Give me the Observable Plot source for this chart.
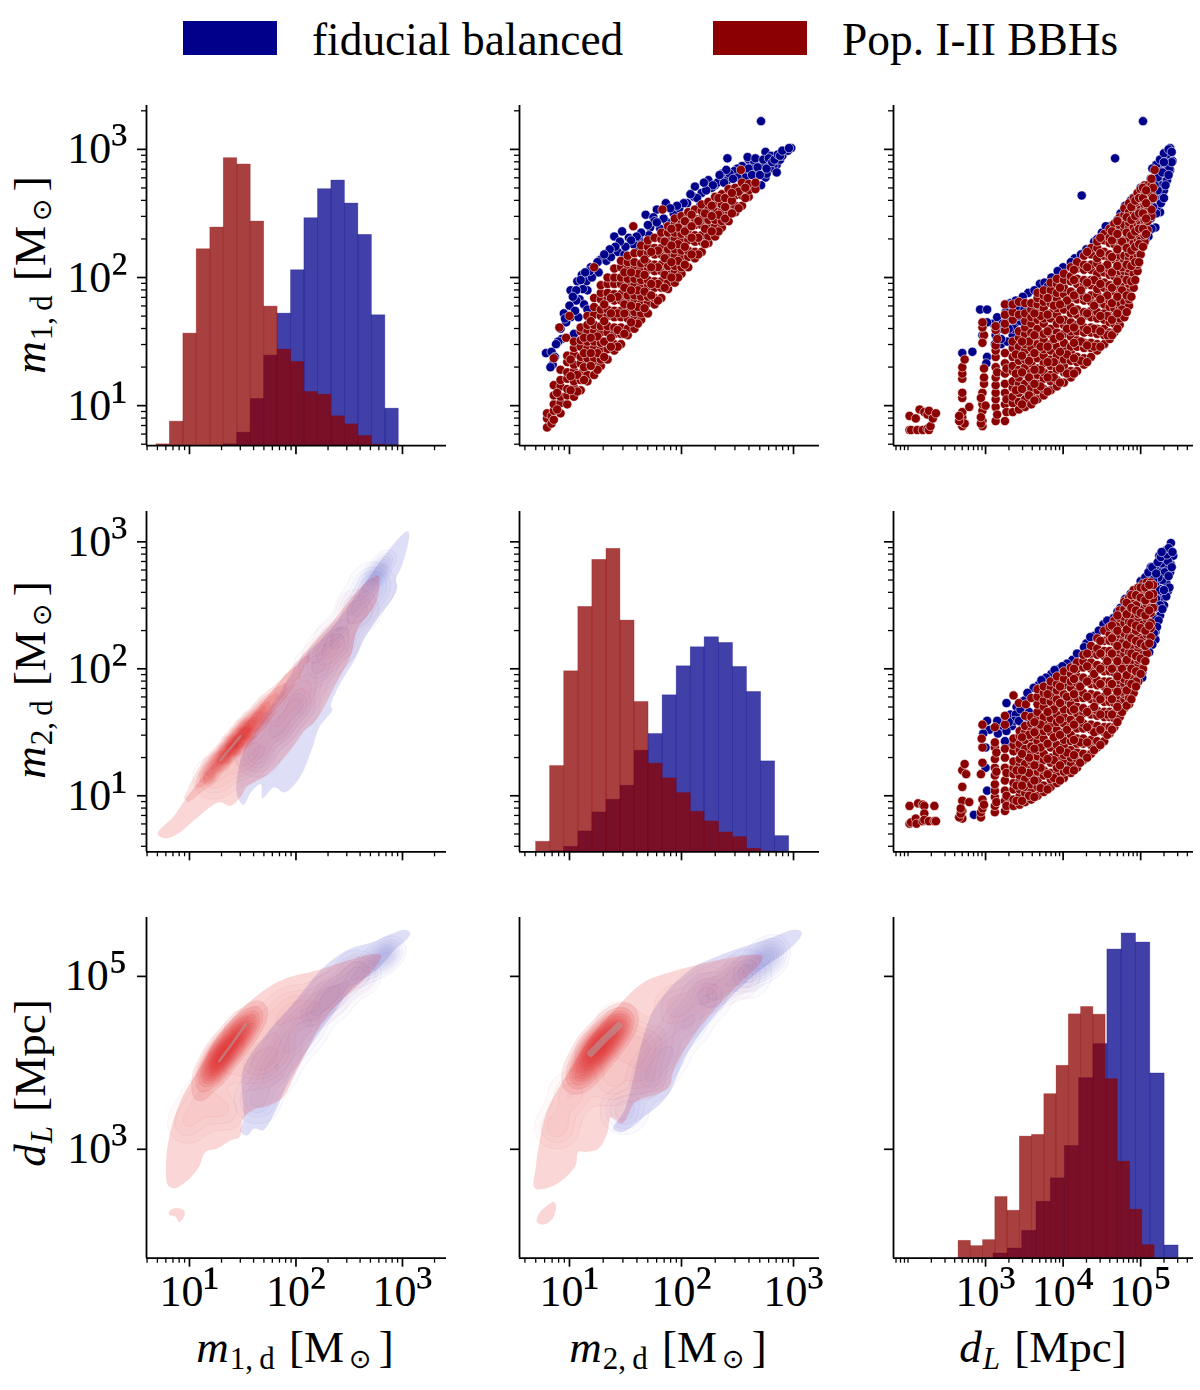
<!DOCTYPE html>
<html><head><meta charset="utf-8">
<script src="https://cdn.jsdelivr.net/npm/d3@7"></script>
<script src="https://cdn.jsdelivr.net/npm/@observablehq/plot@0.6"></script>
<style>
html,body{margin:0;padding:0;background:#fff}
#fig{position:relative;width:1200px;height:1390px;overflow:hidden;font-family:"Liberation Serif",serif;color:#000}
#fig svg{position:absolute}
.lab{position:absolute;white-space:nowrap;font-size:45px;line-height:50px;transform-origin:0 0;word-spacing:3px}
.lab sub{font-size:31px;vertical-align:-7px;line-height:0;margin-left:1px}
.lab sub.o{font-family:"DejaVu Sans";font-size:27px;vertical-align:-6px;margin:0 7px 0 5px}
.swatch{position:absolute;height:34px;width:94px;top:21px}
.leg{position:absolute;font-size:45.4px;line-height:50px;top:15px;white-space:nowrap}
</style></head><body><div id="fig"></div>
<script>
// ---- axes ----
const m1Domain=[3.95,2590], m2Domain=[3.58,1706], dLDomain=[65,480000];
const m1RowDomain=[4.87,2200], m2RowDomain=[3.62,1733], dLRowDomain=[55,480000];
const massMajor=[10,100,1000], dLMajor=[1000,10000,100000], dLRowMajor=[1000,100000];
const m1Minor=[4,5,6,7,8,9,20,30,40,50,60,70,80,90,200,300,400,500,600,700,800,900,2000];
const m2Minor=[4,5,6,7,8,9,20,30,40,50,60,70,80,90,200,300,400,500,600,700,800,900];
const dLMinor=[70,80,90,100,200,300,400,500,600,700,800,900,2000,3000,4000,5000,6000,7000,8000,9000,20000,30000,40000,50000,60000,70000,80000,90000,200000,300000,400000];
const rowMinorM1=[5,6,7,8,9,20,30,40,50,60,70,80,90,200,300,400,500,600,700,800,900,2000];
const rowMinorM2=[4,5,6,7,8,9,20,30,40,50,60,70,80,90,200,300,400,500,600,700,800,900];
const supers={1:"¹",2:"²",3:"³",4:"⁴",5:"⁵"};

// ---- histograms: bin edges (physical units) and estimated counts ----
const m1Edges=[4.9,6.55,8.77,11.7,15.7,21,28.1,37.6,50.3,67.2,89.9,120,161,215,288,385,516,690,923];
const m1Fid=[0,0,0,0,0,4,39,140,270,396,526,682,769,795,726,632,391,111];
const m1Pop=[4,72,336,589,654,862,843,672,417,288,251,161,153,88,64,29,3,1];
const m2Edges=[5.04,6.72,8.97,12,16,21.4,28.5,38.1,50.8,67.9,90.6,121,161,216,288,384,513,685,914];
const m2Fid=[0,2,15,61,118,156,198,303,353,469,556,613,643,626,554,479,271,47];
const m2Pop=[30,257,541,734,875,908,693,449,264,220,176,120,91,58,44,9,1,0];
const dLEdgesFid=[1267,1941,2965,4539,6935,10500,16070,24600,37240,56920,87100,133000,203700,308300];
const dLFid=[14,29,82,169,239,336,539,641,924,972,945,553,38];
const dLEdgesPop=[449,646,929,1337,1923,2767,3981,5728,8241,11858,17061,24547,35318,50816,73114,105196,151356];
const dLPop=[52,36,54,183,142,364,369,491,576,730,752,729,536,289,145,39];

// ---- scatter points, in hundredths of a dex: [log x, log y, log y, ...] ----
const m2m1Fid=[[271,322],[241,293],[298,301],[292,298],[275,298],[280,295],[285,288],[275,278],[254,287],[260,292],[265,290],[274,287],[250,285],[236,281],[224,276],[212,271],[186,258],[178,253],[168,249],[175,247],[172,239],[147,236],[140,232],[153,231],[162,230],[167,227],[143,220],[128,214],[133,213],[119,208],[111,202],[107,197],[101,190],[115,197],[109,183],[95,172],[101,169],[97,165],[93,152],[108,169],[79,141],[84,142],[85,132],[137,216],[149,218],[160,224],[181,238],[193,250],[211,263],[218,266],[230,272],[241,276],[253,279],[265,283],[282,287],[288,292],[268,281],[217,257],[187,243],[171,233],[122,204],[116,190],[113,179],[104,156],[116,175],[259,294],[247,283],[232,274],[279,285],[271,272],[276,281],[285,282],[290,295],[295,299],[262,285],[256,282],[243,281],[227,270],[205,258],[198,254],[176,244],[157,226],[126,204],[112,191],[106,182],[90,150],
[257,278],[260,285],[263,280],[266,293],[268,286],[270,280],[273,292],[276,285],[278,293],[281,290],[283,292],[286,296],[288,295],[290,299],[296,301],[250,278],[246,277],[240,284],[238,274],[234,280],[228,272],[222,268],[220,274],[214,262],[208,265],[202,258],[196,256],[190,254],[184,246],[178,243],[170,241],[164,235],[160,232],[155,229],[150,224],[145,228],[141,224],[136,222],[131,218],[125,212],[120,200],[118,205],[114,204],[110,198],[106,190],[103,185],[100,178],[96,168],[105,174],[92,160],[88,148],[83,130],[87,138]];
const m2m1Pop=[[253,284],[183,253],[157,240],[122,208],[91,161],[97,153],[100,170],[86,137],
[80,83,90,94],[84,86,92],[86,89,96,101,108,116],[92,94,102,107,115,120,128],[98,101,108,113,121,126,134,139],[104,107,114,119,127,132,140,145,150],[110,112,120,125,133,138,146,151,158,161],[116,119,124,132,137,145,150,158,163,170],[122,124,132,137,145,150,158,163,171,177,184],[128,131,136,144,149,157,162,170,175,183,188,194],[134,136,144,149,157,162,170,175,183,188,195,200],[140,143,148,156,161,169,174,182,187,195,200,207],[146,148,156,161,169,174,182,187,195,200,208,213],[152,155,160,168,173,181,186,194,199,207,212,217],[158,160,168,173,181,186,194,199,207,212,219],[164,167,172,180,185,193,198,206,211,219,225],[170,172,180,185,193,198,206,211,219,224,229],[176,179,184,192,197,205,210,218,223,231],[182,184,192,197,205,210,218,223,230,235],[188,191,196,204,209,217,222,230,235,240],[194,196,204,209,217,222,230,235,242,246],[200,203,208,216,221,229,234,242,248],[206,208,216,221,229,234,241,247,251],[212,215,220,228,233,241,246,253],[218,220,228,233,241,246,252,257],[224,227,232,240,245,253,259],[230,232,240,245,252,258,263],[236,239,244,252,257,265],[242,244,252,257,264,269],[248,251,256,264,270],[254,256,264,269,274],[260,263,268,273],[266,269,274],
[107,111,124],[125,128,141,154],[143,146,159,172,185],[161,164,177,190,203],[179,182,195,208,221],[197,200,213,226,239],[215,218,231,244],[233,236,249,262],[251,254,267],
[89,97,110],[101,112,123,136],[113,120,130,141,153],[119,131,141,153,166],[131,138,150,166,179],[137,146,153,172,184],[149,156,172,179,192,204],[155,165,178,190,204],[167,176,189,202,214],[173,186,195,208,220],[185,192,202,215,228],[191,200,212,225,238],[203,210,224,236,244],[209,218,231,240,249],[221,226,238,250],[227,236,248,256],[239,246,255,262],[245,250,260,266],[257,262,270]];
const dLm1Fid=[[503,322],[467,293],[424,264],[538,301],[541,291],[538,284],[529,289],[529,276],[528,262],[525,251],[519,239],[511,237],[504,226],[517,250],[534,296],[524,283],[513,277],[521,270],[509,260],[515,265],[530,282],[524,276],[521,255],[513,246],[522,278],[530,268],[512,268],[535,287],[528,272],[518,262],[534,276],
[520,288],[525,292],[530,297],[536,300],[540,298],[532,290],[537,285],[540,290],[528,282],[522,268],[526,258],[530,262],[532,272],[536,280],[520,250],[514,238],[510,232],[506,229],[516,255],[508,246],[518,272],
[490,262],[480,256],[470,245],[460,240],[450,235],[440,228],[430,222],[415,215],[400,208],[385,200],[370,195],[355,188],[345,182],[332,180],[310,164],[318,160],[335,172],[352,178],[358,172],[342,175],[328,170],[335,155],[350,160],[340,165],[320,148],[328,150],[312,148],[302,138],
[487,260],[474,250],[444,230],[423,218],[393,205],[376,196],[363,190],[348,185],[339,182],[328,179],[326,173],[293,175],[302,175],[302,165],[296,155],[315,169],[320,152],[337,162],[270,141],[283,142],[301,133],[322,164],[313,155],[345,166],[455,240],[410,212],[380,193],[500,270],[515,285],[530,290],[342,170],[350,175],[356,170],[336,160],[345,158],[330,160]];
const dLm1Pop=[[202,92,81],[204,81],[210,90],[212,81],[215,97],[219,81],[221,95],[225,93,82],[227,96,81],[229,84],[232,90],[236,94],
[270,84,87,91,95,106,110,121,125,130],[273,86,136],[266,88,92],[279,99],
[296,84,88,96,101,110],[298,117,122,129,155],[294,86,91,106],[296,149,161,165],[300,100],
[313,88,99,105,110,116,122,130,138,143,147,159,162],[315,93,126,152],
[325,88,101,110,117,125,133,141,159,164,171,179],[327,95,105,129],
[335,95,102,107,114,119,127,131,138,145,150,167,173,179],
[343,97,103,110,117,122,128,135,141,146,153,158,171,181],
[351,99,105,112,117,125,130,136,143,148,156,161,166,172,180],
[359,101,108,114,120,126,133,138,145,152,157,164,169,175,180],
[367,105,112,117,124,129,137,142,148,155,160,167,172,179,184,188],
[375,108,113,121,126,133,139,144,151,156,164,168,176,181,186,190],
[384,112,119,124,131,136,143,148,156,160,168,172,180,186,190,196],
[392,115,120,128,134,139,146,153,157,164,171,176,183,188,195,199],
[401,118,126,131,136,144,149,156,163,167,175,180,187,192,198,203],
[410,122,127,135,141,146,154,158,165,172,177,184,189,197,201,208],
[418,127,134,138,146,151,158,163,171,175,183,187,195,199,207,212],
[427,132,137,145,149,157,161,170,173,182,185,194,198,206,210,217],
[436,138,145,149,157,161,169,174,181,186,194,198,206,210,218,223],
[444,143,148,156,160,168,173,180,187,191,199,203,211,215,223,228],
[453,148,155,160,167,172,179,184,192,196,204,208,217,220,229,234],
[460,152,157,165,170,177,182,190,194,202,206,215,218,227,231,238],
[466,157,164,169,176,181,189,193,201,205,214,217,226,230,238,242],
[473,163,168,176,180,188,192,200,205,212,217,225,229,237,241,247],
[479,169,176,181,188,193,200,205,213,217,225,229,237,241,249,254],
[485,178,183,191,195,203,207,215,219,227,231,239,243,251,258],
[491,192,199,203,211,215,223,227,235,239,247,251,262],
[496,205,210,218,222,230,234,242,246,254,258,266],
[500,218,225,229,237,241,249,253,261,269],
[505,228,233,241,245,253,257,265,272],
[509,237,244,248,256,260,268,272],
[514,248,253,261,265,272,277],[516,262,270],[518,284],
[339,112,125,140],[356,108,122,135,150],[371,115,128,146,170],[388,122,134,152,178],[405,125,140,160,182],[423,135,150,166,190],[440,146,160,178,198],[457,155,170,186,210],[476,175,190,208,228],
[347,101,113,126,139,150],[363,104,117,128,141,155,172],[380,111,122,134,146,158,171,184],[396,118,129,142,154,167,179,192],[414,125,137,149,161,174,186,198,206],[431,134,147,159,172,184,196,208,220],[448,146,158,170,183,195,207,219,231],[463,155,167,180,192,204,216,229,236],[470,160,172,185,197,209,222,234,244],[482,173,186,198,210,223,235,247],[488,185,197,209,221,233,245,255],[493,198,212,224,236,248,260],[498,212,226,238,250,262],[503,224,238,250,262,270],[507,234,246,258,268]];
const dLm2Fid=[[539,299],[538,293],[542,289],[529,286],[539,282],[538,276],[528,278],[519,281],[511,275],[530,270],[535,261],[528,260],[526,254],[525,242],[517,240],[519,229],[519,223],[515,219],[511,213],[502,197],[502,193],[521,268],[513,280],[524,289],[532,293],[532,280],[524,273],[524,263],[500,269],[520,255],[530,250],[515,240],[527,283],[535,285],[522,262],[533,268],
[506,272],[510,276],[515,280],[519,268],[522,284],[526,288],[528,270],[531,276],[534,290],[536,273],[525,250],[533,257],[537,264],[518,248],[512,258],[507,262],[530,262],[536,295],[527,292],[523,272],[516,270],[540,280],[541,292],[528,247],[523,238],[521,233],[517,228],
[480,255],[474,248],[465,240],[452,235],[440,226],[430,220],[412,207],[405,204],[395,200],[385,196],[378,193],[368,187],[345,173],[350,175],[340,170],[332,164],[334,155],[348,155],[322,155],[318,158],[305,152],[345,147],[338,145],[328,142],
[487,259],[457,238],[446,230],[427,217],[418,212],[399,202],[389,199],[372,191],[362,185],[354,181],[327,173],[302,159],[315,159],[297,149],[316,149],[300,138],[327,151],[339,164],[345,168],[356,166],[337,159],[330,158],[343,159],[354,162],[325,143],[300,122],[302,104],[285,85],[470,245],[435,225],[510,265],[520,275]];
const dLm2Pop=[[202,92,78],[204,79],[210,82],[211,78],[213,94],[219,93,80],[221,92,86,81],[227,80],[234,92,80],[236,80],
[270,82,88,96,107,120],[266,83],[279,95],[275,117],[273,125],[268,86,90],
[294,83,87,117],[296,90,97,126,138,156],[295,145],[298,93],
[312,87,92,99,104,109,116,122,129,138,142,154],[314,95,119,134],
[325,88,96,104,112,122,130,137,156,163],[327,92,100,118],
[336,179],[343,173],[352,172],[359,177],
[336,92,97,105,110,117,122,127,135,140,145],
[344,93,100,105,112,116,124,129,136,141,147,151],
[351,95,102,107,113,120,125,132,137,144,150,155,163],
[359,97,103,109,116,121,127,134,139,146,151,157,162],
[367,100,107,112,119,124,131,136,143,148,154,161,166,172,178,184],
[375,103,108,116,120,128,133,140,145,151,158,162,170,175,181,186],
[384,107,113,118,126,130,138,142,150,155,161,167,174,179,185,190],
[392,110,117,122,129,134,140,147,152,158,164,171,176,183,188,194],
[401,114,119,127,132,139,144,150,157,162,168,175,180,187,192,198],
[410,118,125,130,136,143,148,155,160,167,172,178,185,190,196,201],
[418,122,129,134,141,145,153,158,165,170,177,182,189,194,200,205],
[426,128,133,141,145,153,157,165,169,177,181,189,193,201,206,211],
[436,133,140,144,152,156,164,168,176,180,188,192,200,205,212,218],
[444,138,143,151,155,163,167,175,179,187,191,199,203,211,216,224],
[453,143,150,154,162,166,174,178,186,190,198,202,210,214,222,230],
[460,149,154,162,166,174,178,186,190,198,202,210,214,222,227,233],
[466,154,161,165,173,177,185,189,197,201,209,213,221,226,232,238],
[473,162,167,175,179,187,191,199,203,211,215,223,227,235,240,246],
[479,169,176,180,188,192,200,204,212,216,224,228,236,241,247,253],
[485,172,177,185,189,197,201,209,213,221,225,233,237,245,250,256],
[491,181,188,192,200,204,212,216,224,228,236,240,248,253,259,262],
[497,190,195,203,207,215,219,227,231,239,243,251,256,264],
[503,200,207,211,219,223,231,235,243,247,255,260,267],
[508,212,219,227,231,239,243,251,256,262,268],
[513,225,232,236,244,248,256,261,268],[516,248,255,259,266],
[340,96,108,120],[356,100,118,130,148],[371,106,122,138,156],[388,114,128,146,168],[405,120,134,152,178],[422,126,142,160,186],[440,136,150,170,196],[457,148,164,182,206],[476,166,182,200,220],[494,190,210,230,250],
[347,96,108,120,133,146],[363,99,112,124,137,150,158],[380,105,117,129,141,153,166,180],[396,112,124,136,148,160,173,186],[414,120,132,144,156,168,180,192,200],[431,130,142,154,166,178,190,202,212],[448,140,152,164,176,188,200,212,222],[463,152,164,176,188,200,212,224,234],[470,158,170,182,194,206,218,230,242],[482,171,183,195,207,219,231,243,252],[488,176,188,200,212,224,236,248,258],[494,186,198,210,222,234,246,258],[500,196,208,220,232,244,256,264],[506,206,218,230,242,254,264],[511,220,234,246,258,266]];

// ---- KDE outlines and ridge skeletons, in dex: [log x, log y] or [log x, log y, weight] ----
const m1m2FidOutline=[[3.053,3.081],[3.063,3.047],[3.0,2.824],[2.937,2.698],[2.953,2.654],[2.922,2.575],[2.75,2.378],[2.64,2.234],[2.546,2.063],[2.421,1.892],[2.327,1.709],[2.343,1.682],[2.218,1.538],[2.155,1.381],[2.045,1.157],[1.936,1.045],[1.883,1.026],[1.795,1.066],[1.685,.982],[1.67,1.092],[1.576,1.026],[1.507,.929],[1.444,1.013],[1.498,1.328],[1.638,1.538],[1.826,1.774],[2.014,2.037],[2.327,2.312],[2.64,2.667],[2.89,2.955],[3.031,3.079]];
const m1m2PopOutline=[[2.772,2.732],[2.753,2.522],[2.577,2.312],[2.515,2.102],[2.39,1.906],[2.18,1.585],[2.077,1.512],[1.92,1.328],[1.717,1.157],[1.529,1.066],[1.498,1.013],[1.388,.921],[1.279,.948],[1.075,.829],[.887,.698],[.778,.664],[.7,.698],[.856,.843],[.997,1.013],[1.326,1.354],[1.701,1.748],[2.014,2.063],[2.327,2.352],[2.64,2.667]];
const m1m2PopRidge=[[.96,.95,6],[1.0,1.0,10],[1.08,1.08,25],[1.16,1.16,45],[1.23,1.24,70],[1.31,1.31,90],[1.39,1.38,100],[1.45,1.44,100],[1.51,1.5,95],[1.57,1.56,80],[1.64,1.62,60],[1.7,1.68,45],[1.76,1.75,35],[1.84,1.82,25],[1.92,1.89,20],[2.0,1.97,14],[2.08,2.06,12],[2.17,2.14,11],[2.26,2.22,10],[2.35,2.32,10],[2.45,2.43,9],[2.55,2.52,8]];
const m1m2PopBody=[[1.23,1.14,1],[1.48,1.25,1],[1.61,1.38,1],[1.8,1.54,1],[1.95,1.7,1],[2.08,1.85,1],[2.26,2.09,1],[2.39,2.22,1],[2.58,2.46,1]];
const m1m2FidRidge=[[2.17,2.09,15],[2.23,2.16,18],[2.3,2.22,20],[2.37,2.29,20],[2.45,2.35,20],[2.53,2.46,22],[2.61,2.56,28],[2.67,2.65,38],[2.73,2.73,50],[2.78,2.78,45],[2.83,2.84,25],[2.88,2.89,12]];
const m1m2FidBody=[[1.64,1.33,1],[1.83,1.54,1],[2.01,1.72,1],[2.2,2.01,1],[2.39,2.22,1],[2.58,2.46,1],[2.72,2.66,1]];
const m1m2PeakLine=[[1.29,1.28],[1.38,1.37],[1.48,1.47]];
const m1dLFidOutline=[[3.07,5.51],[3.05,5.44],[2.92,5.3],[2.77,5.09],[2.51,4.84],[2.33,4.53],[2.2,4.32],[2.05,4.03],[1.92,3.76],[1.81,3.45],[1.69,3.22],[1.61,3.24],[1.54,3.16],[1.48,3.2],[1.51,3.37],[1.5,3.91],[1.7,4.3],[1.95,4.65],[2.2,5.03],[2.33,5.18],[2.51,5.32],[2.73,5.4],[2.89,5.49],[3.02,5.54]];
const m1dLPopOutline=[[2.8,5.24],[2.78,5.17],[2.61,4.93],[2.39,4.68],[2.23,4.43],[2.09,4.11],[1.98,3.84],[1.87,3.59],[1.7,3.49],[1.62,3.47],[1.5,3.35],[1.47,3.14],[1.4,3.11],[1.26,3.01],[1.15,2.97],[1.09,2.8],[1.0,2.66],[.86,2.55],[.8,2.58],[.78,2.83],[.81,3.14],[.92,3.57],[1.08,3.91],[1.26,4.3],[1.48,4.61],[1.7,4.84],[1.89,4.97],[2.2,5.07],[2.48,5.18],[2.73,5.26]];
const m1dLPopIsland=[[.81,2.28],[.87,2.32],[.95,2.29],[.95,2.22],[.9,2.16],[.87,2.22],[.81,2.24]];
const m1dLPopRidge=[[1.08,3.6,8],[1.12,3.7,14],[1.15,3.8,22],[1.19,3.88,40],[1.23,3.95,65],[1.28,4.05,90],[1.34,4.14,100],[1.4,4.24,95],[1.47,4.34,75],[1.52,4.43,50],[1.58,4.51,30],[1.63,4.58,15],[1.67,4.65,8]];
const m1dLPopBody=[[.98,3.3,1],[1.11,3.6,1],[1.33,3.95,1],[1.51,4.38,1],[1.7,4.03,1],[1.8,4.45,1],[1.95,4.65,1],[2.14,4.61,1],[2.33,4.8,1],[2.58,5.03,1],[1.86,4.14,1],[1.33,3.45,1],[1.61,3.95,1]];
const m1dLFidRidge=[[2.14,4.53,14],[2.2,4.62,16],[2.26,4.7,18],[2.34,4.78,20],[2.42,4.86,20],[2.53,4.97,20],[2.64,5.07,20],[2.72,5.14,28],[2.81,5.2,45],[2.87,5.27,35],[2.92,5.34,14]];
const m1dLFidBody=[[1.64,3.57,1],[1.8,3.91,1],[1.95,4.22,1],[2.11,4.45,1],[2.33,4.76,1],[2.58,5.03,1]];
const m1dLPeakLine=[[1.28,4.02],[1.4,4.22],[1.53,4.45]];
const m2dLFidOutline=[[3.07,5.52],[3.06,5.45],[2.91,5.26],[2.74,5.11],[2.5,4.84],[2.26,4.49],[2.05,4.11],[1.87,3.61],[1.66,3.37],[1.47,3.2],[1.39,3.24],[1.49,3.45],[1.75,4.61],[2.08,5.08],[2.26,5.2],[2.5,5.32],[2.79,5.44],[3.0,5.54]];
const m2dLPopOutline=[[2.72,5.24],[2.71,5.17],[2.5,4.9],[2.29,4.61],[2.08,4.26],[1.93,3.91],[1.89,3.72],[1.78,3.64],[1.59,3.55],[1.47,3.3],[1.37,3.37],[1.34,3.2],[1.26,3.01],[1.14,2.97],[1.08,2.97],[1.05,2.8],[.86,2.58],[.69,2.55],[.7,2.8],[.73,3.07],[.8,3.45],[.98,3.87],[1.19,4.3],[1.43,4.65],[1.66,4.93],[1.93,5.06],[2.26,5.17],[2.56,5.24]];
const m2dLPopIsland=[[.86,2.39],[.88,2.35],[.85,2.2],[.77,2.13],[.71,2.16],[.73,2.26]];
const m2dLPopRidge=[[1.04,3.76,25],[1.09,3.86,45],[1.13,3.95,70],[1.18,4.05,95],[1.23,4.14,110],[1.28,4.22,110],[1.34,4.3,100],[1.39,4.38,75],[1.43,4.45,50],[1.47,4.51,30],[1.51,4.57,15]];
const m2dLPopBody=[[.89,3.26,1],[1.01,3.64,1],[1.25,4.11,1],[1.44,4.45,1],[1.51,4.14,1],[1.72,4.22,1],[1.37,3.76,1],[1.96,4.65,1],[2.23,4.84,1],[2.5,4.99,1],[1.66,3.84,1]];
const m2dLFidRidge=[[2.23,4.76,12],[2.32,4.83,14],[2.41,4.9,14],[2.5,4.97,15],[2.59,5.03,18],[2.67,5.11,30],[2.74,5.18,45],[2.8,5.25,35],[2.85,5.32,14]];
const m2dLFidBody=[[1.49,3.45,1],[1.72,3.84,1],[1.87,4.11,1],[2.05,4.45,1],[2.23,4.76,1],[2.59,5.03,1]];
const m2dLPeakLine=[[1.19,4.11],[1.31,4.27],[1.44,4.43]];

// ---- styling ----
const FID="#00008B", POP="#8B0000", KFID="#3030c8", KPOP="#e22424";
const FONT="Liberation Serif";
const cols=[{L:146,R:446,dom:m1Domain,major:massMajor,minor:m1Minor},{L:519,R:819,dom:m2Domain,major:massMajor,minor:m2Minor},{L:893,R:1193,dom:dLDomain,major:dLMajor,minor:dLMinor}];
const rowsG=[{T:104.5,B:444.7,dom:m1RowDomain,major:massMajor,minor:rowMinorM1},{T:510.7,B:851,dom:m2RowDomain,major:massMajor,minor:rowMinorM2},{T:917.3,B:1258,dom:dLRowDomain,major:dLRowMajor,minor:[]}];
const fig=document.getElementById("fig");
const tick10=v=>"10"+supers[Math.round(Math.log10(v))];
const fromCenti=list=>list.flatMap(([x,...ys])=>ys.map(y=>({x:10**(x/100),y:10**(y/100)})));
const fromDex=list=>list.map(([x,y,w])=>({x:10**x,y:10**y,w:w??1}));

function geometry(c,r){
  const col=cols[c],row=rowsG[r];
  const mL=c===0?112:14,mR=14,mT=8,mB=r===2?60:14;
  return {col,row,mL,mR,mT,mB,width:col.R-col.L+mL+mR,height:row.B-row.T+mT+mB,left:col.L-mL,top:row.T-mT};
}
function place(svg,g){svg.style.left=g.left+"px";svg.style.top=g.top+"px";fig.appendChild(svg);}
function common(g){return {width:g.width,height:g.height,marginLeft:g.mL,marginRight:g.mR,marginTop:g.mT,marginBottom:g.mB,
  style:{background:"transparent",overflow:"visible",fontFamily:FONT,maxWidth:"none",height:g.height+"px",width:g.width+"px"}};}
// enlarge the superscript glyph of a "10ⁿ" tick label, keeping its text unchanged
function raiseExponents(svg){
  svg.querySelectorAll("text").forEach(t=>{
    const s=t.textContent;
    if(/^10[¹²³⁴⁵]$/.test(s)){
      t.textContent="10";
      const sp=document.createElementNS("http://www.w3.org/2000/svg","tspan");
      sp.setAttribute("font-size","54");sp.setAttribute("dy","-3");sp.textContent=s[2];t.appendChild(sp);
    }
  });
}

function panel(c,r,marks){
  const g=geometry(c,r),{col,row}=g;
  const svg=Plot.plot({...common(g),
    x:{type:"log",domain:col.dom},y:{type:"log",domain:row.dom},
    marks:[...marks,
      Plot.axisX({ticks:col.minor,tickSize:5,strokeWidth:1.3,fill:"none",label:null,tickFormat:()=>""}),
      Plot.axisY({ticks:row.minor,tickSize:5,strokeWidth:1.3,fill:"none",label:null,tickFormat:()=>""}),
      Plot.axisX(r===2?{ticks:col.major,tickSize:9,tickPadding:8,strokeWidth:1.7,fontSize:44,fontFamily:FONT,tickFormat:tick10,label:null}
                      :{ticks:col.major,tickSize:9,strokeWidth:1.7,fill:"none",tickFormat:()=>"",label:null}),
      Plot.axisY(c===0?{ticks:row.major,tickSize:9,tickPadding:10,strokeWidth:1.7,fontSize:44,fontFamily:FONT,tickFormat:tick10,label:null}
                      :{ticks:row.major,tickSize:9,strokeWidth:1.7,fill:"none",tickFormat:()=>"",label:null}),
      Plot.ruleX([col.dom[0]],{strokeWidth:1.8}),
      Plot.ruleY([row.dom[0]],{strokeWidth:1.8})
    ]});
  raiseExponents(svg);
  place(svg,g);
}
function bars(edges,counts,color){
  const d=counts.map((n,i)=>({x1:edges[i],x2:edges[i+1],n})).filter(b=>b.n>0);
  return Plot.rect(d,{x1:"x1",x2:"x2",y1:()=>0,y2:"n",fill:color,fillOpacity:.75,stroke:color,strokeOpacity:.35,strokeWidth:.8});
}
function hist(c,r,series){
  const g=geometry(c,r);
  const svg=Plot.plot({...common(g),x:{type:"log",domain:g.col.dom,axis:null},y:{domain:[0,1020],axis:null},
    marks:series.map(([e,n,k])=>bars(e,n,k))});
  place(svg,g);
  panel(c,r,[]);
}
function scatter(fid,pop){
  return [Plot.dot(fromCenti(fid),{x:"x",y:"y",r:4.6,fill:FID,stroke:"white",strokeWidth:.8,strokeOpacity:.7}),
          Plot.dot(fromCenti(pop),{x:"x",y:"y",r:4.6,fill:POP,stroke:"white",strokeWidth:.8,strokeOpacity:.7})];
}
function outline(pts,color,o){return Plot.line(fromDex(pts),{x:"x",y:"y",fill:color,fillOpacity:o,stroke:"none",curve:"catmull-rom-closed"});}
function dens(pts,color,bw,n,o){return Plot.density(fromDex(pts),{x:"x",y:"y",weight:"w",bandwidth:bw,thresholds:n,fill:color,fillOpacity:o,stroke:color,strokeOpacity:.12,strokeWidth:.5});}
function kde(k){
  return [
    outline(k.fo,KFID,.16),
    dens(k.fb,KFID,k.bb,6,.018),
    dens(k.fr,KFID,k.rb,9,.032),
    outline(k.po,KPOP,.19),
    ...(k.pi?[outline(k.pi,KPOP,.19)]:[]),
    dens(k.pb,KPOP,k.bb,6,.025),
    dens(k.pr,KPOP,k.rb,14,.12),
    Plot.line(fromDex(k.peak),{x:"x",y:"y",stroke:"#b59a9c",strokeWidth:k.pw,strokeOpacity:.6,strokeLinecap:"round"})
  ];
}

// panels
hist(0,0,[[m1Edges,m1Fid,FID],[m1Edges,m1Pop,POP]]);
panel(1,0,scatter(m2m1Fid,m2m1Pop));
panel(2,0,scatter(dLm1Fid,dLm1Pop));
panel(0,1,kde({fo:m1m2FidOutline,po:m1m2PopOutline,fb:m1m2FidBody,fr:m1m2FidRidge,pb:m1m2PopBody,pr:m1m2PopRidge,peak:m1m2PeakLine,bb:10,rb:4.5,pw:2.5}));
hist(1,1,[[m2Edges,m2Fid,FID],[m2Edges,m2Pop,POP]]);
panel(2,1,scatter(dLm2Fid,dLm2Pop));
panel(0,2,kde({fo:m1dLFidOutline,po:m1dLPopOutline,pi:m1dLPopIsland,fb:m1dLFidBody,fr:m1dLFidRidge,pb:m1dLPopBody,pr:m1dLPopRidge,peak:m1dLPeakLine,bb:11,rb:6,pw:2.5}));
panel(1,2,kde({fo:m2dLFidOutline,po:m2dLPopOutline,pi:m2dLPopIsland,fb:m2dLFidBody,fr:m2dLFidRidge,pb:m2dLPopBody,pr:m2dLPopRidge,peak:m2dLPeakLine,bb:11,rb:8,pw:7}));
hist(2,2,[[dLEdgesFid,dLFid,FID],[dLEdgesPop,dLPop,POP]]);

// labels and legend
const M1='<i>m</i><sub>1,&#8201;d</sub> [M<sub class="o">⊙</sub>]';
const M2='<i>m</i><sub>2,&#8201;d</sub> [M<sub class="o">⊙</sub>]';
const DL='<i>d</i><sub><i>L</i></sub> [Mpc]';
function lab(html,x,y,rot){const e=document.createElement("div");e.className="lab";e.innerHTML=html;e.style.left=x+"px";e.style.top=y+"px";
  e.style.transform=(rot?"rotate(-90deg) ":"")+"translate(-50%,-39px)";fig.appendChild(e);}
lab(M1,295,1361);lab(M2,668,1361);lab(DL,1043,1361);
lab(M1,44,275,true);lab(M2,44,680,true);lab(DL,44,1083,true);
function legend(color,text,x,tx){
  const s=document.createElement("div");s.className="swatch";s.style.left=x+"px";s.style.background=color;fig.appendChild(s);
  const t=document.createElement("div");t.className="leg";t.style.left=tx+"px";t.textContent=text;fig.appendChild(t);
}
legend(FID,"fiducial balanced",183,312);
legend(POP,"Pop. I-II BBHs",713,842);
</script></body></html>
